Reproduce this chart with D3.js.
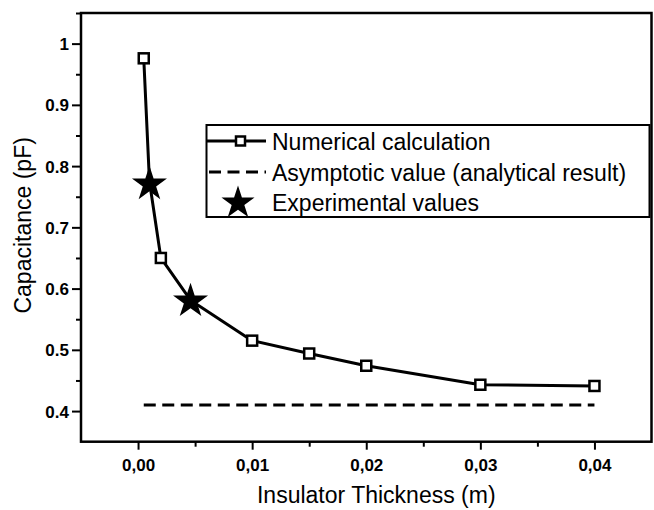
<!DOCTYPE html>
<html><head><meta charset="utf-8">
<script src="https://cdn.jsdelivr.net/npm/d3@7"></script>
<style>body{margin:0;background:#fff}svg{display:block}text{font-family:"Liberation Sans",Arial,sans-serif;fill:#000}</style>
</head><body><svg id="c" width="654" height="510"></svg>
<script>
const numX = [0.0005, 0.001, 0.002, 0.0046, 0.01, 0.015, 0.02, 0.03, 0.04];
const numY = [0.976, 0.775, 0.650, 0.581, 0.515, 0.494, 0.474, 0.443, 0.441];
const hiddenUnderStar = [false, true, false, true, false, false, false, false, false];
const expX = [0.001, 0.0046];
const expY = [0.772, 0.581];
const asymX = [0.0005, 0.04];
const asymY = [0.41, 0.41];
const xTicks = [0, 0.01, 0.02, 0.03, 0.04];
const xTickLabels = ["0,00", "0,01", "0,02", "0,03", "0,04"];
const xMinor = [0.005, 0.015, 0.025, 0.035];
const yTicks = [0.4, 0.5, 0.6, 0.7, 0.8, 0.9, 1];
const yTickLabels = ["0.4", "0.5", "0.6", "0.7", "0.8", "0.9", "1"];
const yMinor = [0.45, 0.55, 0.65, 0.75, 0.85, 0.95, 1.05];
const legendLabels = ["Numerical calculation", "Asymptotic value (analytical result)", "Experimental values"];

const svg = d3.select("#c");
const L = 81, R = 651.5, T = 13, B = 441.7;
const x = d3.scaleLinear().domain([-0.005, 0.045]).range([L, R]);
const y = d3.scaleLinear().domain([0.35, 1.05]).range([B, T]);

// frame
svg.append("rect").attr("x", L).attr("y", T).attr("width", R - L).attr("height", B - T)
  .attr("fill", "none").attr("stroke", "#000").attr("stroke-width", 2.5);

// axes
const xAx = svg.append("g").attr("transform", `translate(0,${B})`)
  .call(d3.axisBottom(x).tickValues(xTicks).tickFormat((d, i) => xTickLabels[i]).tickSize(8).tickPadding(9));
const xAxMin = svg.append("g").attr("transform", `translate(0,${B})`)
  .call(d3.axisBottom(x).tickValues(xMinor).tickFormat("").tickSize(5));
const yAx = svg.append("g").attr("transform", `translate(${L},0)`)
  .call(d3.axisLeft(y).tickValues(yTicks).tickFormat((d, i) => yTickLabels[i]).tickSize(9).tickPadding(3));
const yAxMin = svg.append("g").attr("transform", `translate(${L},0)`)
  .call(d3.axisLeft(y).tickValues(yMinor).tickFormat("").tickSize(5));
[xAx, xAxMin, yAx, yAxMin].forEach(g => {
  g.select(".domain").remove();
  g.selectAll(".tick line").attr("stroke", "#000").attr("stroke-width", 2);
  g.selectAll("text").attr("font-size", 17).attr("font-weight", "bold")
    .attr("font-family", "Liberation Sans, Arial, sans-serif").attr("fill", "#000");
});
yAx.selectAll("text").attr("dy", "0.36em");

// axis titles
svg.append("text").attr("x", (L + R) / 2 + 10).attr("y", 503).attr("text-anchor", "middle")
  .attr("font-size", 23).text("Insulator Thickness (m)");
svg.append("text").attr("transform", `translate(31,${(T + B) / 2 - 2}) rotate(-90)`).attr("text-anchor", "middle")
  .attr("font-size", 23).text("Capacitance (pF)");

// asymptote
const asym = asymX.map((v, i) => [v, asymY[i]]);
svg.append("path").datum(asym).attr("d", d3.line().x(d => x(d[0])).y(d => y(d[1])))
  .attr("fill", "none").attr("stroke", "#000").attr("stroke-width", 3).attr("stroke-dasharray", "12,6.5");

// numerical line
const num = numX.map((v, i) => [v, numY[i], hiddenUnderStar[i]]);
svg.append("path").datum(num).attr("d", d3.line().x(d => x(d[0])).y(d => y(d[1])))
  .attr("fill", "none").attr("stroke", "#000").attr("stroke-width", 3).attr("stroke-linejoin", "round");
svg.selectAll(".sq").data(num.filter(d => !d[2])).join("rect").attr("class", "sq")
  .attr("x", d => x(d[0]) - 5).attr("y", d => y(d[1]) - 5).attr("width", 10).attr("height", 10)
  .attr("fill", "#fff").attr("stroke", "#000").attr("stroke-width", 2.5);

// stars
const star = d3.symbol().type(d3.symbolStar).size(380);
svg.selectAll(".st").data(expX.map((v, i) => [v, expY[i]])).join("path").attr("class", "st")
  .attr("d", star).attr("transform", d => `translate(${x(d[0])},${y(d[1]) + 1})`).attr("fill", "#000");

// legend
const lg = svg.append("g");
lg.append("rect").attr("x", 206.5).attr("y", 125).attr("width", 443).attr("height", 92)
  .attr("fill", "#fff").attr("stroke", "#000").attr("stroke-width", 2);
const rows = [141, 172, 202];
lg.append("line").attr("x1", 207).attr("x2", 266).attr("y1", rows[0]).attr("y2", rows[0])
  .attr("stroke", "#000").attr("stroke-width", 3);
lg.append("rect").attr("x", 236).attr("y", rows[0] - 4.5).attr("width", 9).attr("height", 9)
  .attr("fill", "#fff").attr("stroke", "#000").attr("stroke-width", 2.5);
lg.append("line").attr("x1", 209).attr("x2", 266).attr("y1", rows[1]).attr("y2", rows[1])
  .attr("stroke", "#000").attr("stroke-width", 3).attr("stroke-dasharray", "12,6.5");
lg.append("path").attr("d", d3.symbol().type(d3.symbolStar).size(340)).attr("transform", `translate(238,${rows[2] + 1})`).attr("fill", "#000");
legendLabels.forEach((t, i) => {
  lg.append("text").attr("x", 272).attr("y", rows[i] + 8.5).attr("font-size", 23).text(t);
});
</script></body></html>
